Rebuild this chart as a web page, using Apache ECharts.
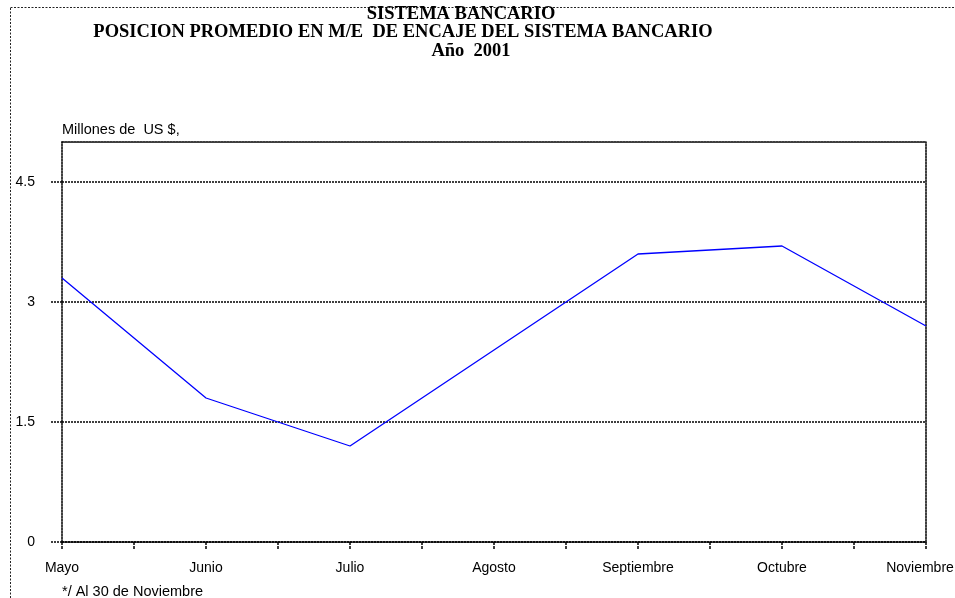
<!DOCTYPE html>
<html>
<head>
<meta charset="utf-8">
<script src="https://cdn.jsdelivr.net/npm/echarts@6/dist/echarts.min.js"></script>
<style>
  html, body { margin: 0; padding: 0; background: #fff; overflow: hidden; }
  #chart { width: 955px; height: 598px; }
</style>
</head>
<body>
<div id="chart"></div>
<script>
// Monthly average foreign-currency reserve position (millions of US $), 2001
const months = ['Mayo', 'Junio', 'Julio', 'Agosto', 'Septiembre', 'Octubre', 'Noviembre'];
const posicion = [3.3, 1.8, 1.2, 2.4, 3.6, 3.7, 2.7];
const yTicks = [0, 1.5, 3, 4.5];
const titleLines = [
  'SISTEMA BANCARIO',
  'POSICION PROMEDIO EN M/E  DE ENCAJE DEL SISTEMA BANCARIO',
  'Año  2001'
];
const unitLabel = 'Millones de  US $,';
const footnote = '*/ Al 30 de Noviembre';

const chart = echarts.init(document.getElementById('chart'), null, { renderer: 'canvas' });

const dotted = { color: '#000', width: 1.5, type: [2, 1] };
const tickStyle = { color: '#000', width: 1.5, type: [3, 1] };
const sans = 'Arial, "Liberation Sans", sans-serif';
const serif = '"Times New Roman", "Liberation Serif", serif';

const titleStyle = {
  fontFamily: serif, fontWeight: 'bold', fontSize: 18.5, fill: '#000',
  textAlign: 'center', textVerticalAlign: 'middle'
};

const lastMonth = months.length - 1;

chart.setOption({
  animation: false,
  backgroundColor: '#fff',
  grid: {
    left: 62, right: 29, top: 142, bottom: 56,
    containLabel: false, outerBoundsMode: 'none'
  },
  xAxis: [
    {
      type: 'value', min: 0, max: lastMonth, interval: 1,
      position: 'bottom',
      axisLine: { show: true, lineStyle: dotted },
      axisTick: { show: true, length: 8, lineStyle: tickStyle },
      minorTick: { show: true, splitNumber: 2, length: 8, lineStyle: tickStyle },
      splitLine: { show: false },
      minorSplitLine: { show: false },
      axisLabel: {
        show: true, margin: 19, color: '#000', fontFamily: sans, fontSize: 14,
        hideOverlap: false,
        formatter: v => {
          const i = Math.round(v);
          const name = months[i] || '';
          // keep the last month inside the page edge
          return i === lastMonth ? '{edge|' + name + '}' : name;
        },
        rich: {
          edge: { fontFamily: sans, fontSize: 14, color: '#000', padding: [0, 12, 0, 0] }
        }
      }
    },
    {
      type: 'value', min: 0, max: lastMonth, position: 'top',
      axisLine: { show: true, onZero: false, lineStyle: dotted },
      axisTick: { show: false }, axisLabel: { show: false }, splitLine: { show: false }
    }
  ],
  yAxis: [
    {
      type: 'value', min: 0, max: 5, interval: 1.5,
      axisLine: { show: true, onZero: false, lineStyle: dotted },
      axisTick: { show: true, length: 12, customValues: yTicks, lineStyle: dotted },
      axisLabel: {
        show: true, margin: 27, customValues: yTicks, color: '#000',
        fontFamily: sans, fontSize: 14, formatter: v => String(v)
      },
      splitLine: { show: true, lineStyle: dotted }
    },
    {
      type: 'value', min: 0, max: 5, position: 'right',
      axisLine: { show: true, onZero: false, lineStyle: dotted },
      axisTick: { show: false }, axisLabel: { show: false }, splitLine: { show: false }
    }
  ],
  series: [
    {
      type: 'line',
      xAxisIndex: 0, yAxisIndex: 0,
      data: posicion.map((v, i) => [i, v]),
      symbol: 'none',
      lineStyle: { color: '#0000ff', width: 1.3 },
      z: 5
    }
  ],
  graphic: [
    {
      type: 'rect', silent: true, z: -1,
      shape: { x: 10.5, y: 7.5, width: 2000, height: 2000 },
      style: { fill: null, stroke: '#222', lineWidth: 1, lineDash: [2, 1.5] }
    },
    { type: 'text', x: 461, y: 14, style: Object.assign({ text: titleLines[0] }, titleStyle) },
    { type: 'text', x: 403, y: 32.5, style: Object.assign({ text: titleLines[1] }, titleStyle) },
    { type: 'text', x: 471, y: 51, style: Object.assign({ text: titleLines[2] }, titleStyle) },
    {
      type: 'text', x: 62, y: 130,
      style: { text: unitLabel, fontFamily: sans, fontSize: 14.5, fill: '#000', textVerticalAlign: 'middle' }
    },
    {
      type: 'text', x: 62, y: 592,
      style: { text: footnote, fontFamily: sans, fontSize: 14.5, fill: '#000', textVerticalAlign: 'middle' }
    }
  ]
});
</script>
</body>
</html>
